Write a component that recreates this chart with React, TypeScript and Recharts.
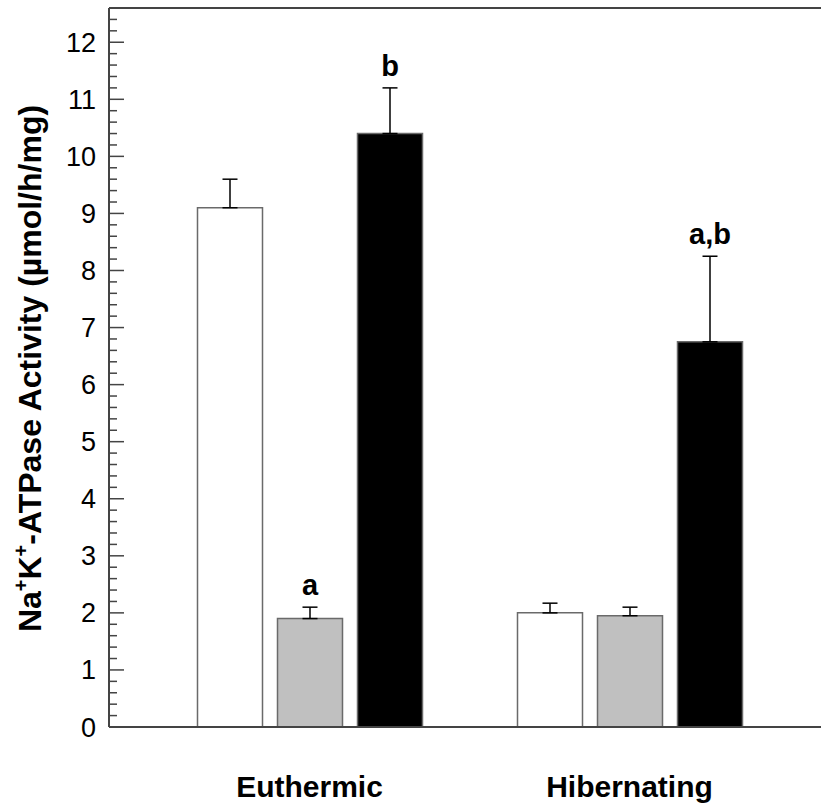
import React from "react";
import { Bar, BarChart, ErrorBar, LabelList, ReferenceLine, XAxis, YAxis } from "recharts";

const GROUPS = ["Euthermic", "Hibernating"];
const WHITE_VALUES = [9.1, 2.0];
const WHITE_ERRORS = [0.5, 0.17];
const GRAY_VALUES = [1.9, 1.95];
const GRAY_ERRORS = [0.2, 0.15];
const BLACK_VALUES = [10.4, 6.75];
const BLACK_ERRORS = [0.8, 1.5];
const GRAY_MARKS = ["a", ""];
const BLACK_MARKS = ["b", "a,b"];
const Y_MAX = 12.6;
// minor ticks every 0.2, labelled on whole numbers
const Y_TICKS = Array.from({ length: 63 }, (_, i) => Math.round(i * 2) / 10);
const Y_MAJOR_TICKS = [0, 1, 2, 3, 4, 5, 6, 7, 8, 9, 10, 11, 12];

const FONT = "'Liberation Sans', Arial, sans-serif";
const FRAME = "#444";
const BAR_EDGE = "#6a6a6a";

const data = GROUPS.map((group, i) => ({
  group,
  white: WHITE_VALUES[i],
  whiteErr: [0, WHITE_ERRORS[i]],
  gray: GRAY_VALUES[i],
  grayErr: [0, GRAY_ERRORS[i]],
  grayMark: GRAY_MARKS[i],
  black: BLACK_VALUES[i],
  blackErr: [0, BLACK_ERRORS[i]],
  blackMark: BLACK_MARKS[i],
}));

function LeftTick(props: any) {
  const { x, y, payload } = props;
  const v = Number(payload.value);
  const major = Number.isInteger(v);
  return (
    <g>
      <line x1={x} x2={x + (major ? 15 : 8)} y1={y} y2={y} stroke={FRAME} strokeWidth={1.5} />
      {major && (
        <text x={x - 13} y={y + 9.5} textAnchor="end" fontSize={27} fontFamily={FONT} fill="#000">
          {v}
        </text>
      )}
    </g>
  );
}

function RightTick(props: any) {
  const { x, y } = props;
  return <line x1={x - 10} x2={x} y1={y} y2={y} stroke={FRAME} strokeWidth={1.5} />;
}

function GroupTick(props: any) {
  const { x, y, payload } = props;
  return (
    <text x={x} y={y + 70} textAnchor="middle" fontSize={30} fontWeight="bold" fontFamily={FONT} fill="#000">
      {payload.value}
    </text>
  );
}

function markLabel(values: number[], errors: number[]) {
  return (props: any) => {
    const vb = props.viewBox ?? props;
    const index = props.index;
    const mark = props.value;
    if (!mark || index == null) return null;
    const x = vb.x ?? props.x;
    const y = vb.y ?? props.y;
    const w = vb.width ?? props.width;
    const h = vb.height ?? props.height;
    const top = y - errors[index] * (h / values[index]);
    return (
      <text x={x + w / 2} y={top - 12} textAnchor="middle" fontSize={29} fontWeight="bold" fontFamily={FONT} fill="#000">
        {mark}
      </text>
    );
  };
}

function YTitle(props: any) {
  const vb = props.viewBox;
  const cx = 41;
  const cy = vb.y + vb.height / 2 + 1;
  return (
    <text
      x={cx}
      y={cy}
      transform={`rotate(-90, ${cx}, ${cy})`}
      textAnchor="middle"
      fontSize={32}
      fontWeight="bold"
      fontFamily={FONT}
      fill="#000"
    >
      Na<tspan fontSize={20} dy={-13}>+</tspan>
      <tspan dy={13}>K</tspan>
      <tspan fontSize={20} dy={-13}>+</tspan>
      <tspan dy={13}>-ATPase Activity (µmol/h/mg)</tspan>
    </text>
  );
}

export default function App() {
  return (
    <div style={{ position: "absolute", left: 0, top: 0, width: 821, height: 808, overflow: "hidden", background: "#fff" }}>
      <BarChart
        width={824}
        height={808}
        data={data}
        margin={{ top: 8, right: 0, bottom: 0, left: 0 }}
        barSize={65}
        barGap={15}
      >
        <XAxis
          dataKey="group"
          height={81}
          padding={{ left: 40.5, right: 33.5 }}
          tickSize={0}
          tickMargin={0}
          tickLine={false}
          axisLine={{ stroke: FRAME, strokeWidth: 2 }}
          tick={<GroupTick />}
        />
        <YAxis
          yAxisId="left"
          width={109}
          domain={[0, Y_MAX]}
          ticks={Y_TICKS}
          interval={0}
          tickSize={0}
          tickMargin={0}
          tickLine={false}
          axisLine={{ stroke: FRAME, strokeWidth: 2 }}
          tick={<LeftTick />}
          label={<YTitle />}
        />
        <YAxis
          yAxisId="right"
          orientation="right"
          width={1}
          domain={[0, Y_MAX]}
          ticks={Y_MAJOR_TICKS}
          interval={0}
          tickSize={0}
          tickMargin={0}
          tickLine={false}
          axisLine={{ stroke: FRAME, strokeWidth: 2 }}
          tick={<RightTick />}
        />
        <ReferenceLine yAxisId="left" y={Y_MAX} stroke={FRAME} strokeWidth={2} />
        <Bar yAxisId="left" dataKey="white" fill="#fff" stroke={BAR_EDGE} strokeWidth={1.5} isAnimationActive={false}>
          <ErrorBar dataKey="whiteErr" direction="y" width={7.5} stroke="#000" strokeWidth={1.5} />
        </Bar>
        <Bar yAxisId="left" dataKey="gray" fill="#c0c0c0" stroke={BAR_EDGE} strokeWidth={1.5} isAnimationActive={false}>
          <ErrorBar dataKey="grayErr" direction="y" width={7.5} stroke="#000" strokeWidth={1.5} />
          <LabelList dataKey="grayMark" content={markLabel(GRAY_VALUES, GRAY_ERRORS)} />
        </Bar>
        <Bar yAxisId="left" dataKey="black" fill="#000" stroke={BAR_EDGE} strokeWidth={1.5} isAnimationActive={false}>
          <ErrorBar dataKey="blackErr" direction="y" width={7.5} stroke="#000" strokeWidth={1.5} />
          <LabelList dataKey="blackMark" content={markLabel(BLACK_VALUES, BLACK_ERRORS)} />
        </Bar>
      </BarChart>
    </div>
  );
}
